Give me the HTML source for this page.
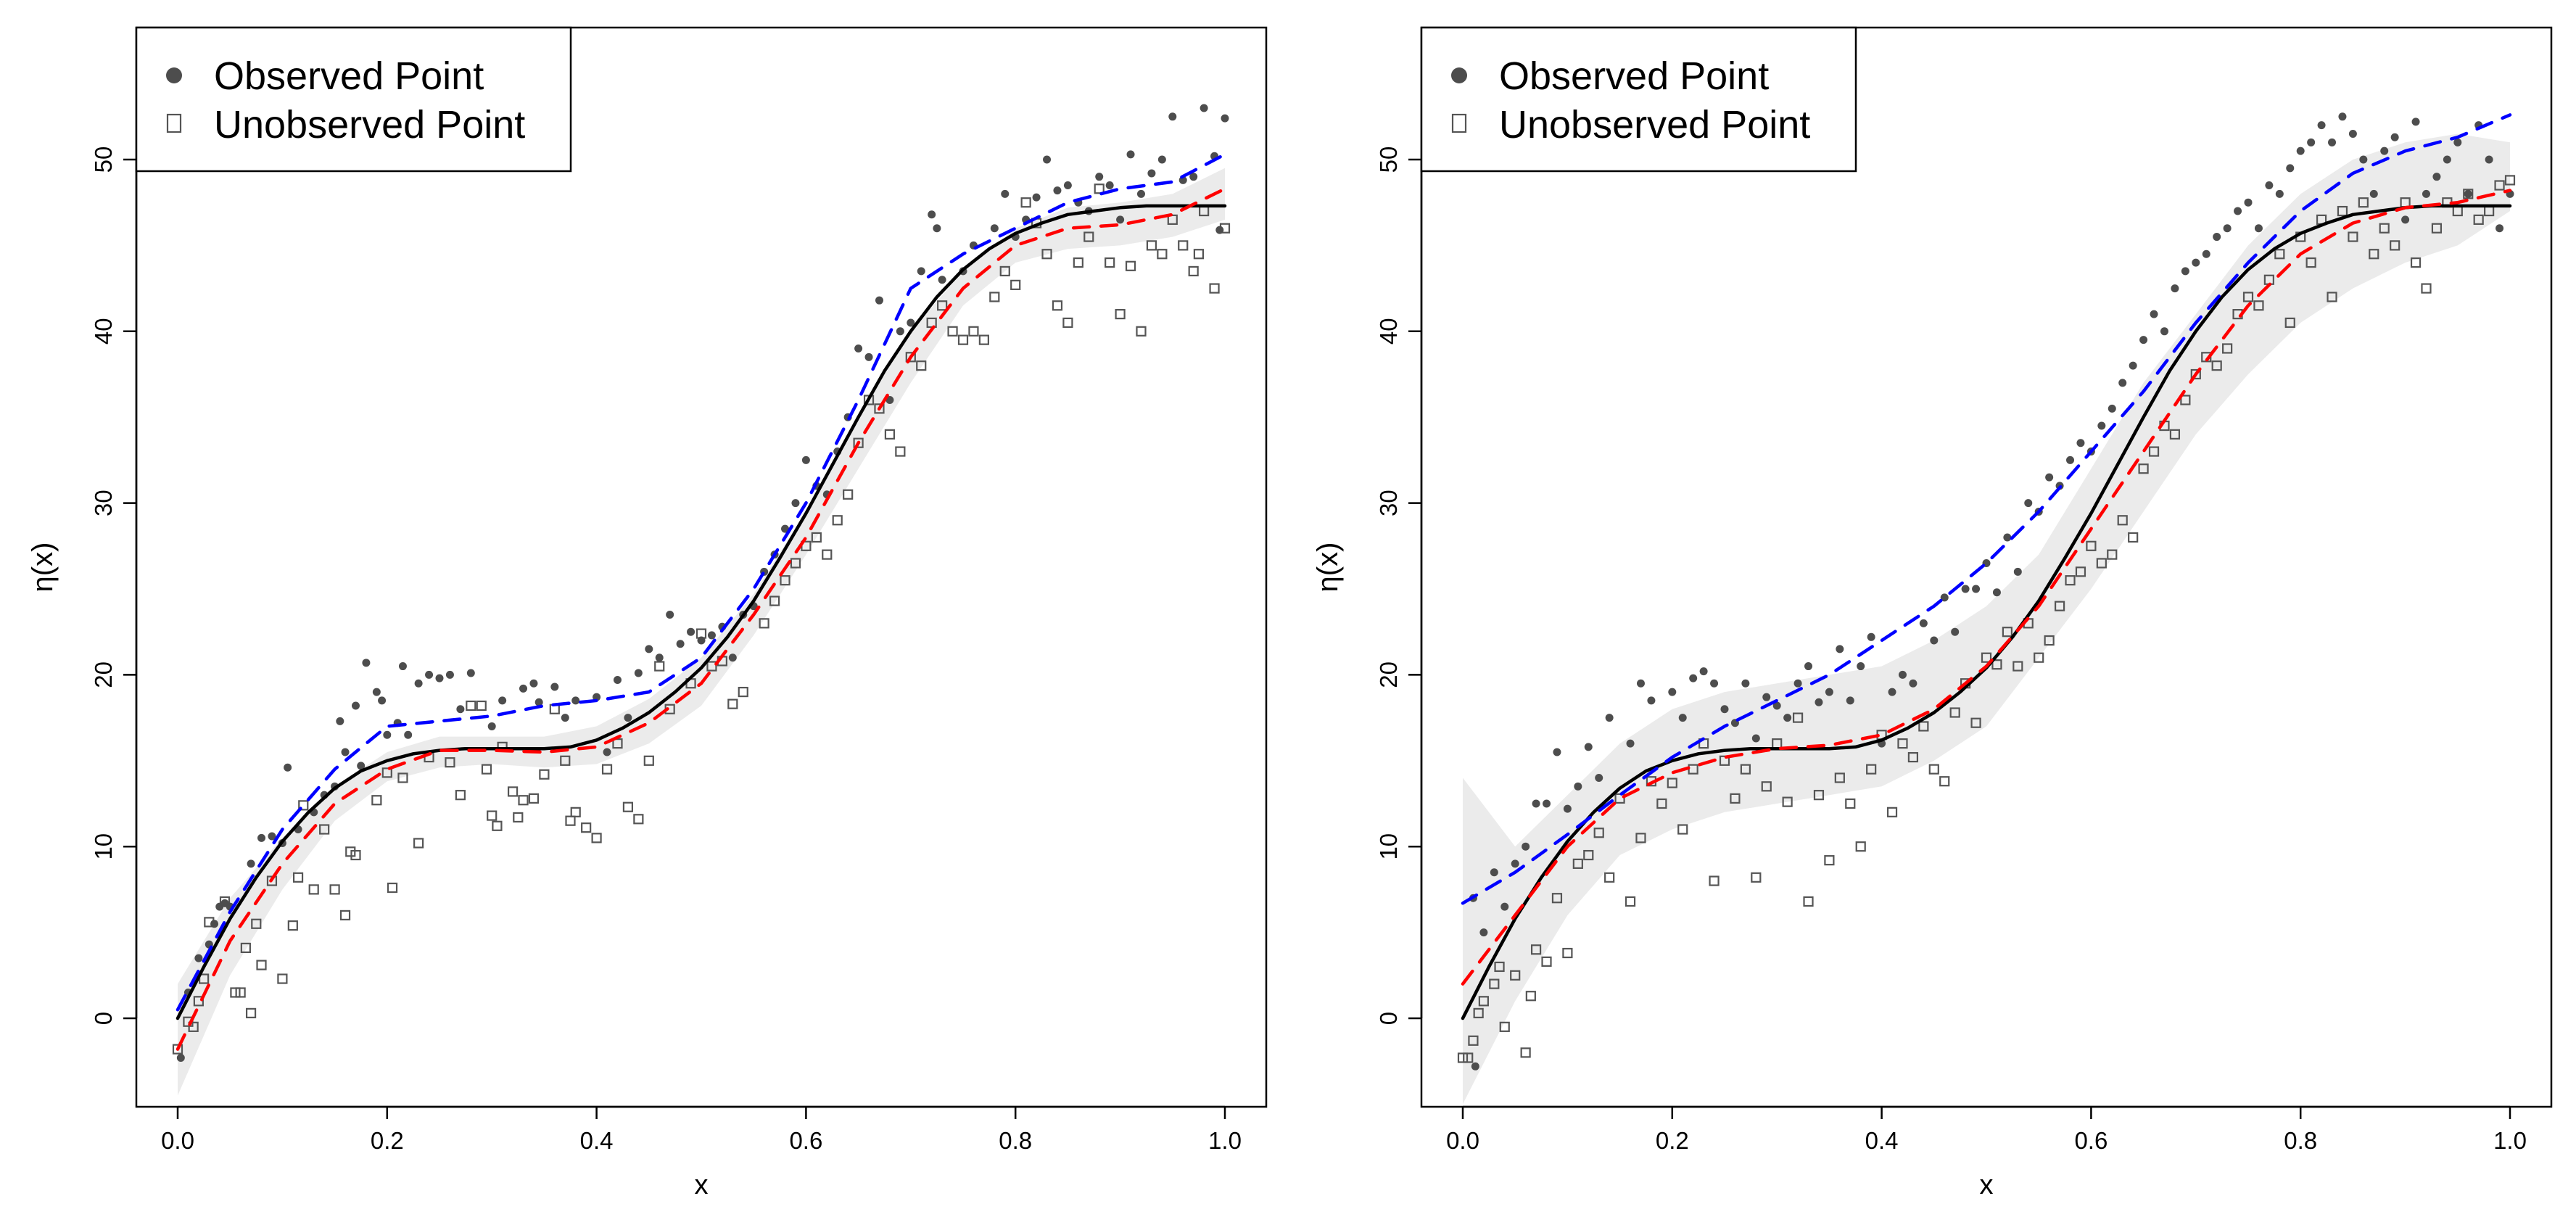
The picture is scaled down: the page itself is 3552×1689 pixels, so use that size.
<!DOCTYPE html>
<html><head><meta charset="utf-8"><style>
html,body{margin:0;padding:0;background:#fff;}
svg text{font-family:"Liberation Sans",Arial,sans-serif;}
</style></head><body>
<svg id="chart" xmlns="http://www.w3.org/2000/svg" width="3552" height="1684" viewBox="0 0 3552 1684"></svg>
<script>
// ---------- data ----------
const gridX = [0,0.05,0.1,0.15,0.2,0.25,0.3,0.35,0.4,0.45,0.5,0.55,0.6,0.65,0.7,0.75,0.8,0.85,0.9,0.95,1.0];
const truthX = [0,0.025,0.05,0.075,0.1,0.125,0.15,0.175,0.2,0.225,0.25,0.275,0.3,0.325,0.35,0.375,0.4,0.425,0.45,0.475,0.5,0.525,0.55,0.575,0.6,0.625,0.65,0.675,0.7,0.725,0.75,0.775,0.8,0.825,0.85,0.875,0.9,0.925,0.95,0.975,1.0];
const truthY = [0,3.0,5.8,8.2,10.3,12.0,13.4,14.4,15.0,15.4,15.6,15.7,15.7,15.7,15.7,15.8,16.2,16.9,17.8,19.0,20.4,22.2,24.3,26.8,29.4,32.2,35.0,37.7,40.0,42.0,43.6,44.8,45.7,46.3,46.8,47.0,47.2,47.3,47.3,47.3,47.3];
const xTicks = [0,0.2,0.4,0.6,0.8,1.0];
const xTickLabels = ["0.0","0.2","0.4","0.6","0.8","1.0"];
const yTicks = [0,10,20,30,40,50];
const yTickLabels = ["0","10","20","30","40","50"];

const leftRed = [-1.8,4.5,9.0,12.5,14.5,15.6,15.6,15.5,15.8,17.2,19.5,23.5,28.0,33.5,38.5,42.5,45.0,46.0,46.2,46.8,48.3];
const leftBlue = [0.5,6.2,11,14.5,17.0,17.3,17.6,18.2,18.5,19.0,21.0,25.0,30.0,36.0,42.5,44.5,46.0,47.5,48.3,48.7,50.3];
const leftLower = [-4.5,2.5,7.5,11.5,13.8,14.6,14.8,14.6,14.8,16,18.2,22.3,27,32,37,41.5,44,44.8,45,45.5,46.5];
const leftUpper = [2,7,10.5,13.5,15.5,16.4,16.4,16.4,17,18.6,21,24.7,29.5,35,40,43.5,46,47.2,47.5,48,49.5];

const rightRed = [2.0,6,10,12.8,14.3,15.2,15.7,15.9,16.5,18,20.5,24,28.5,33,37.5,41.5,44.5,46.3,47.2,47.5,48.2];
const rightBlue = [6.7,8.5,10.7,13.0,15.2,17.0,18.5,20.0,22,24,26.5,29.5,33,36.5,40.5,44,47,49.2,50.5,51.3,52.6];
const rightLower = [-5,1,6,9.5,11,12,12.5,13,13.5,15,17,21,25,29.5,34,37.5,40.5,42.5,44,45,47];
const rightUpper = [14,10,13,16,18,19,19.5,20,20.5,22,24,27,32,37,41,45,48,50,51,51.5,51];

const leftObs = [[0.003,-2.3],[0.01,1.5],[0.02,3.5],[0.03,4.3],[0.035,5.5],[0.04,6.5],[0.045,6.7],[0.05,6.5],[0.07,9],[0.08,10.5],[0.09,10.6],[0.1,10.2],[0.105,14.6],[0.115,11],[0.13,12],[0.14,13],[0.15,13.5],[0.155,17.3],[0.16,15.5],[0.17,18.2],[0.175,14.7],[0.18,20.7],[0.19,19],[0.195,18.5],[0.2,16.5],[0.21,17.2],[0.215,20.5],[0.22,16.5],[0.23,19.5],[0.24,20],[0.25,19.8],[0.26,20],[0.27,18],[0.28,20.1],[0.3,17],[0.31,18.5],[0.33,19.2],[0.34,19.5],[0.345,18.4],[0.36,19.3],[0.37,17.5],[0.38,18.5],[0.4,18.7],[0.41,15.5],[0.42,19.7],[0.43,17.5],[0.44,20.1],[0.45,21.5],[0.46,21],[0.47,23.5],[0.48,21.8],[0.49,22.5],[0.5,22],[0.51,22.3],[0.52,22.8],[0.53,21],[0.54,23.5],[0.55,24],[0.56,26],[0.57,27],[0.58,28.5],[0.59,30],[0.6,32.5],[0.61,31],[0.62,30.5],[0.63,33],[0.64,35],[0.65,39],[0.66,38.5],[0.67,41.8],[0.68,36],[0.69,40],[0.7,40.5],[0.71,43.5],[0.72,46.8],[0.725,46],[0.73,43],[0.75,43.5],[0.76,45],[0.78,46],[0.79,48],[0.8,45.5],[0.81,46.5],[0.82,47.8],[0.83,50],[0.84,48.2],[0.85,48.5],[0.86,47.5],[0.87,47],[0.88,49],[0.89,48.5],[0.9,46.5],[0.91,50.3],[0.92,48],[0.93,49.2],[0.94,50],[0.95,52.5],[0.96,48.8],[0.97,49],[0.98,53],[0.99,50.2],[1.0,52.4],[0.995,45.9]];
const leftUnobs = [[0.0,-1.8],[0.01,-0.2],[0.015,-0.5],[0.02,1],[0.025,2.3],[0.03,5.6],[0.045,6.8],[0.055,1.5],[0.06,1.5],[0.065,4.1],[0.07,0.3],[0.075,5.5],[0.08,3.1],[0.09,8],[0.1,2.3],[0.11,5.4],[0.115,8.2],[0.12,12.4],[0.13,7.5],[0.14,11],[0.15,7.5],[0.16,6],[0.165,9.7],[0.17,9.5],[0.19,12.7],[0.2,14.3],[0.205,7.6],[0.215,14],[0.23,10.2],[0.24,15.2],[0.26,14.9],[0.27,13],[0.28,18.2],[0.29,18.2],[0.295,14.5],[0.3,11.8],[0.305,11.2],[0.31,15.8],[0.32,13.2],[0.325,11.7],[0.33,12.7],[0.34,12.8],[0.35,14.2],[0.36,18],[0.37,15],[0.375,11.5],[0.38,12],[0.39,11.1],[0.4,10.5],[0.41,14.5],[0.42,16],[0.43,12.3],[0.44,11.6],[0.45,15],[0.46,20.5],[0.47,18],[0.49,19.5],[0.5,22.4],[0.51,20.5],[0.52,20.8],[0.53,18.3],[0.54,19],[0.56,23],[0.57,24.3],[0.58,25.5],[0.59,26.5],[0.6,27.5],[0.61,28],[0.62,27],[0.63,29],[0.64,30.5],[0.65,33.5],[0.66,36],[0.67,35.5],[0.68,34],[0.69,33],[0.7,38.5],[0.71,38],[0.72,40.5],[0.73,41.5],[0.74,40],[0.75,39.5],[0.76,40],[0.77,39.5],[0.78,42],[0.79,43.5],[0.8,42.7],[0.81,47.5],[0.82,46.3],[0.83,44.5],[0.84,41.5],[0.85,40.5],[0.86,44],[0.87,45.5],[0.88,48.3],[0.89,44],[0.9,41],[0.91,43.8],[0.92,40],[0.93,45],[0.94,44.5],[0.95,46.5],[0.96,45],[0.97,43.5],[0.975,44.5],[0.98,47],[0.99,42.5],[1.0,46]];
const rightObs = [[0.012,-2.8],[0.01,7],[0.02,5],[0.03,8.5],[0.04,6.5],[0.05,9],[0.06,10],[0.07,12.5],[0.08,12.5],[0.09,15.5],[0.1,12.2],[0.11,13.5],[0.12,15.8],[0.13,14],[0.14,17.5],[0.16,16],[0.17,19.5],[0.18,18.5],[0.2,19],[0.21,17.5],[0.22,19.8],[0.23,20.2],[0.24,19.5],[0.25,18],[0.26,17.2],[0.27,19.5],[0.28,16.3],[0.29,18.7],[0.3,18.2],[0.31,17.5],[0.32,19.5],[0.33,20.5],[0.34,18.4],[0.35,19],[0.36,21.5],[0.37,18.5],[0.38,20.5],[0.39,22.2],[0.4,16],[0.41,19],[0.42,20],[0.43,19.5],[0.44,23],[0.45,22],[0.46,24.5],[0.47,22.5],[0.48,25],[0.49,25],[0.5,26.5],[0.51,24.8],[0.52,28],[0.53,26],[0.54,30],[0.55,29.5],[0.56,31.5],[0.57,31],[0.58,32.5],[0.59,33.5],[0.6,33],[0.61,34.5],[0.62,35.5],[0.63,37],[0.64,38],[0.65,39.5],[0.66,41],[0.67,40],[0.68,42.5],[0.69,43.5],[0.7,44],[0.71,44.5],[0.72,45.5],[0.73,46],[0.74,47],[0.75,47.5],[0.76,46],[0.77,48.5],[0.78,48],[0.79,49.5],[0.8,50.5],[0.81,51],[0.82,52],[0.83,51],[0.84,52.5],[0.85,51.5],[0.86,50],[0.87,48],[0.88,50.5],[0.89,51.3],[0.9,46.5],[0.91,52.2],[0.92,48],[0.93,49],[0.94,50],[0.95,51],[0.96,48],[0.97,52],[0.98,50],[0.99,46],[1.0,48]];
const rightUnobs = [[0.0,-2.3],[0.005,-2.3],[0.01,-1.3],[0.015,0.3],[0.02,1],[0.03,2],[0.035,3],[0.04,-0.5],[0.05,2.5],[0.06,-2],[0.065,1.3],[0.07,4],[0.08,3.3],[0.09,7],[0.1,3.8],[0.11,9],[0.12,9.5],[0.13,10.8],[0.14,8.2],[0.15,12.8],[0.16,6.8],[0.17,10.5],[0.18,13.8],[0.19,12.5],[0.2,13.7],[0.21,11],[0.22,14.5],[0.23,16],[0.24,8],[0.25,15],[0.26,12.8],[0.27,14.5],[0.28,8.2],[0.29,13.5],[0.3,16],[0.31,12.6],[0.32,17.5],[0.33,6.8],[0.34,13],[0.35,9.2],[0.36,14],[0.37,12.5],[0.38,10],[0.39,14.5],[0.4,16.5],[0.41,12],[0.42,16],[0.43,15.2],[0.44,17],[0.45,14.5],[0.46,13.8],[0.47,17.8],[0.48,19.5],[0.49,17.2],[0.5,21],[0.51,20.6],[0.52,22.5],[0.53,20.5],[0.54,23],[0.55,21],[0.56,22],[0.57,24],[0.58,25.5],[0.59,26],[0.6,27.5],[0.61,26.5],[0.62,27],[0.63,29],[0.64,28],[0.65,32],[0.66,33],[0.67,34.5],[0.68,34],[0.69,36],[0.7,37.5],[0.71,38.5],[0.72,38],[0.73,39],[0.74,41],[0.75,42],[0.76,41.5],[0.77,43],[0.78,44.5],[0.79,40.5],[0.8,45.5],[0.81,44],[0.82,46.5],[0.83,42],[0.84,47],[0.85,45.5],[0.86,47.5],[0.87,44.5],[0.88,46],[0.89,45],[0.9,47.5],[0.91,44],[0.92,42.5],[0.93,46],[0.94,47.5],[0.95,47],[0.96,48],[0.97,46.5],[0.98,47],[0.99,48.5],[1.0,48.8]];

// ---------- drawing ----------
const NS = "http://www.w3.org/2000/svg";
const svg = document.getElementById('chart');
function mk(tag, attrs, parent){
  const e = document.createElementNS(NS, tag);
  for (const k in attrs) e.setAttribute(k, attrs[k]);
  (parent||svg).appendChild(e);
  return e;
}
function drawPanel(off, id, band, red, blue, obs, unobs){
  const g = mk('g', {});
  
  
  const sx = v => off + 245 + v*1444;
  const sy = v => 1404 - v*23.68;
  const clip = mk('clipPath', {id: id+'-clip'}, g);
  mk('rect', {x: off+188, y: 38, width: 1558, height: 1488}, clip);
  const plot = mk('g', {'clip-path': 'url(#'+id+'-clip)'}, g);
  // band
  let d = '';
  gridX.forEach((x,i)=>{ d += (i?'L':'M') + sx(x).toFixed(1)+','+sy(band[1][i]).toFixed(1); });
  for (let i=gridX.length-1;i>=0;i--) d += 'L'+sx(gridX[i]).toFixed(1)+','+sy(band[0][i]).toFixed(1);
  const b = mk('path', {d: d+'Z', fill: '#ebebeb', stroke: 'none'}, plot);
  
  
  // unobserved squares
  unobs.forEach(p=>{
    const r = mk('rect', {x: sx(p[0])-6, y: sy(p[1])-6, width: 12, height: 12, fill: 'none', stroke: '#555', 'stroke-width': 2.2}, plot);
    
    
  });
  obs.forEach(p=>{
    const c = mk('circle', {cx: sx(p[0]), cy: sy(p[1]), r: 5.5, fill: '#4d4d4d'}, plot);
    
    
  });
  const line = (xs, ys, col, dash, name) => {
    const pts = xs.map((x,i)=>sx(x).toFixed(1)+','+sy(ys[i]).toFixed(1)).join(' ');
    const l = mk('polyline', {points: pts, fill: 'none', stroke: col, 'stroke-width': 4.5, 'stroke-linecap': 'round', 'stroke-linejoin': 'round'}, plot);
    if (dash) l.setAttribute('stroke-dasharray', '22 16');
    
    
  };
  line(truthX, truthY, '#000', false, 'true-curve');
  line(gridX, red, '#ff0000', true, 'red-estimate-curve');
  line(gridX, blue, '#0000ff', true, 'blue-estimate-curve');
  // frame
  const f = mk('rect', {x: off+188, y: 38, width: 1558, height: 1488, fill: 'none', stroke: '#000', 'stroke-width': 2.5}, g);
  
  
  // x axis
  const xa = mk('g', {}, g);
  
  
  mk('line', {x1: sx(xTicks[0]), x2: sx(xTicks[xTicks.length-1]), y1: 1526, y2: 1526, stroke: '#000', 'stroke-width': 2.5}, xa);
  xTicks.forEach((t,i)=>{
    mk('line', {x1: sx(t), x2: sx(t), y1: 1526, y2: 1543, stroke: '#000', 'stroke-width': 2.5}, xa);
    const tx = mk('text', {x: sx(t), y: 1584, 'font-size': 33, 'text-anchor': 'middle'}, xa);
    tx.textContent = xTickLabels[i];
    
    
  });
  const ya = mk('g', {}, g);
  
  
  mk('line', {x1: off+188, x2: off+188, y1: sy(yTicks[0]), y2: sy(yTicks[yTicks.length-1]), stroke: '#000', 'stroke-width': 2.5}, ya);
  yTicks.forEach((t,i)=>{
    mk('line', {x1: off+170, x2: off+188, y1: sy(t), y2: sy(t), stroke: '#000', 'stroke-width': 2.5}, ya);
    const tx = mk('text', {x: off+154, y: sy(t), 'font-size': 33, 'text-anchor': 'middle', transform: 'rotate(-90 '+(off+154)+' '+sy(t)+')'}, ya);
    tx.textContent = yTickLabels[i];
    
    
  });
  const xt = mk('text', {x: off+sx(0.5)-off, y: 1646, 'font-size': 38, 'text-anchor': 'middle'}, g);
  xt.textContent = 'x';
  
  
  const yt = mk('text', {x: off+72, y: 782, 'font-size': 40, 'text-anchor': 'middle', transform: 'rotate(-90 '+(off+72)+' 782)'}, g);
  yt.textContent = 'η(x)';
  
  
  // legend
  const lg = mk('g', {}, g);
  
  
  mk('rect', {x: off+188, y: 38, width: 599, height: 198, fill: '#fff', stroke: '#000', 'stroke-width': 2.5}, lg);
  mk('circle', {cx: off+240, cy: 104, r: 11, fill: '#4d4d4d'}, lg);
  mk('rect', {x: off+231, y: 158, width: 18, height: 24, fill: 'none', stroke: '#555', 'stroke-width': 2.2}, lg);
  const t1 = mk('text', {x: off+295, y: 123, 'font-size': 54}, lg);
  t1.textContent = 'Observed Point';
  
  
  const t2 = mk('text', {x: off+295, y: 190, 'font-size': 54}, lg);
  t2.textContent = 'Unobserved Point';
  
  
}
drawPanel(0, 'left-panel', [leftLower, leftUpper], leftRed, leftBlue, leftObs, leftUnobs);
drawPanel(1772, 'right-panel', [rightLower, rightUpper], rightRed, rightBlue, rightObs, rightUnobs);
</script>
</body></html>
